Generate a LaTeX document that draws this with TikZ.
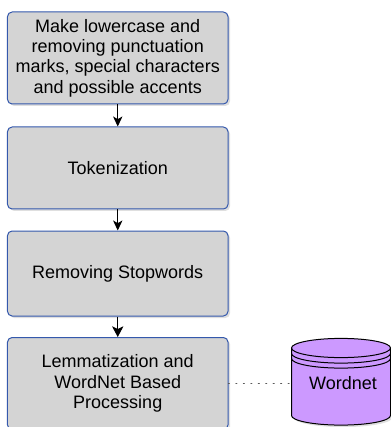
\documentclass[tikz,border=0pt]{standalone}
\usepackage{fontspec}
\setmainfont{Liberation Sans}
\usepackage{tikz}
\usetikzlibrary{arrows.meta}
\usetikzlibrary{shadows}
\definecolor{boxblue}{RGB}{52,88,172}
\definecolor{boxgray}{RGB}{212,212,212}
\definecolor{dbpurple}{RGB}{204,153,255}

\begin{document}
\begin{tikzpicture}[x=0.75pt,y=-0.75pt,
  stage/.style={rectangle,draw=boxblue,fill=boxgray,line width=0.75pt,rounded corners=3.5pt,
    minimum width=165.4pt,align=center,font=\fontsize{13.5}{15.2}\selectfont,
    drop shadow={shadow xshift=1.5pt,shadow yshift=-1.5pt,opacity=0.25}},
  flow/.style={line width=0.75pt,-{Stealth[length=7.5pt,width=7pt,inset=2pt]}},
  rim/.style={line width=0.75pt}]
\useasboundingbox (0,0) rectangle (391,427);
\clip (0,0) rectangle (391,427);
\path (117.75,58) node(clean)[stage,minimum height=69pt]{Make lowercase and\\ removing punctuation\\ marks, special characters\\ and possible accents}
(117.75,168) node(token)[stage,minimum height=61.5pt]{Tokenization}
(117.75,273.5) node(stop)[stage,minimum height=63.75pt]{Removing Stopwords}
(117.75,383.5) node(lemma)[stage,minimum height=69pt]{Lemmatization and\\ WordNet Based\\ Processing};
% wordnet store
\path[draw=black,fill=dbpurple,line width=0.75pt,drop shadow={shadow xshift=1.5pt,shadow yshift=-1.5pt,opacity=0.25}]
(291.5,348) -- (291.5,415.5) arc[start angle=180,end angle=0,x radius=49.5,y radius=9.6]
-- (390.5,348) arc[start angle=0,end angle=-180,x radius=49.5,y radius=9.6] -- cycle;
\draw[rim] (291.5,348) arc[start angle=180,end angle=0,x radius=49.5,y radius=9.6];
\draw[rim] (291.5,353.5) arc[start angle=180,end angle=0,x radius=49.5,y radius=9.6];
\draw[rim] (291.5,358.5) arc[start angle=180,end angle=0,x radius=49.5,y radius=9.6];
\path (343,383) node(wordnet)[font=\fontsize{13.5}{15.2}\selectfont]{Wordnet};
\coordinate (dbin) at (291.5,383.5);
\draw[flow](clean.south)--(token);
\draw[flow](token.south)--(stop);
\draw[flow,-{Stealth[length=8pt,width=8.5pt,inset=2pt]}](stop.south)--(lemma);
\draw[gray!70!black,line width=1pt,dash pattern=on 0.6pt off 5pt,line cap=round](lemma.east)--(dbin);

\end{tikzpicture}
\end{document}
